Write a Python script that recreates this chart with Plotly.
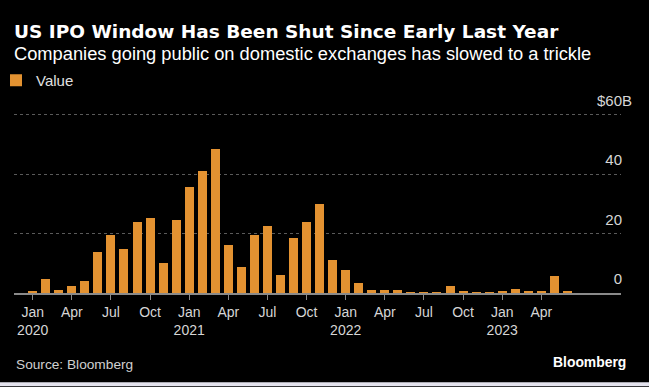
import plotly.graph_objects as go

# ---- data ----
months = [f"{y}-{m:02d}" for y in (2020, 2021, 2022) for m in range(1, 13)] + \
         [f"2023-{m:02d}" for m in range(1, 7)]
values = [
    0.5, 4.6, 1.0, 2.4, 3.9, 13.7, 19.6, 14.8, 23.9, 25.4, 10.2, 24.7,
    35.8, 41.2, 48.6, 16.2, 8.6, 19.6, 22.5, 5.9, 18.4, 24.0, 29.9, 11.2,
    7.9, 3.3, 1.05, 1.05, 0.9, 0.3, 0.1, 0.2, 2.2, 0.65, 0.1, 0.1,
    0.4, 1.5, 0.4, 0.4, 5.7, 0.35,
]
x_tick_vals = ["2020-01", "2020-04", "2020-07", "2020-10",
               "2021-01", "2021-04", "2021-07", "2021-10",
               "2022-01", "2022-04", "2022-07", "2022-10",
               "2023-01", "2023-04"]
x_tick_text = ["Jan<br>2020", "Apr", "Jul", "Oct",
               "Jan<br>2021", "Apr", "Jul", "Oct",
               "Jan<br>2022", "Apr", "Jul", "Oct",
               "Jan<br>2023", "Apr"]
y_tick_vals = [0, 20, 40, 60]
y_tick_text = ["0", "20", "40", "$60B"]

HIDE = "<span style='color:rgba(0,0,0,0)'>B</span>"
y_tick_labels = [t if t.endswith("B") else t + HIDE for t in y_tick_text]

BAR = "#E39231"
W, H = 649, 387
PX_PER_UNIT = 2.98
Y_MAX = 68
L, R, B = 14, 28, 93.5
T = H - B - Y_MAX * PX_PER_UNIT
ph = H - T - B


def py(px):  # pixel y -> paper y
    return (H - B - px) / ph


def pxx(px):  # pixel x -> paper x
    return (px - L) / (W - L - R)


fig = go.Figure()
fig.add_trace(go.Bar(x=months, y=values, name="Value", marker_color=BAR,
                     marker_line_width=0, width=0.69, showlegend=True))

fig.update_layout(
    width=W, height=H,
    margin=dict(l=L, r=R, t=T, b=B, pad=0, autoexpand=False),
    paper_bgcolor="#000000", plot_bgcolor="rgba(0,0,0,0)",
    font=dict(family="Liberation Sans", color="#d6d6d6", size=14),
    bargap=0,
    showlegend=True,
    legend=dict(orientation="h", x=pxx(-4), xanchor="left",
                yref="container", y=1 - 64 / H, yanchor="top",
                font=dict(size=15, color="#e0e0e0", family="Liberation Sans"),
                bgcolor="rgba(0,0,0,0)", itemwidth=30),
    xaxis=dict(type="category", range=[-1.434, 45.11],
               tickvals=x_tick_vals, ticktext=x_tick_text,
               ticks="outside", ticklen=5, tickcolor="#8a8a8a", tickwidth=1,
               showline=True, linecolor="#8a8a8a", linewidth=1.5,
               showgrid=False, zeroline=False, fixedrange=True,
               automargin=False,
               tickfont=dict(size=14, color="#d6d6d6")),
    yaxis=dict(side="right", range=[0, Y_MAX], tickvals=y_tick_vals,
               ticktext=y_tick_labels, ticklabelposition="inside",
               ticklabelstandoff=-14, ticklabelshift=-14,
               showgrid=True, gridcolor="#5a5a5a", griddash="dot",
               gridwidth=1, zeroline=False, showline=False, ticks="",
               fixedrange=True, automargin=False,
               tickfont=dict(size=15, color="#d6d6d6")),
    annotations=[
        dict(text="<b>US IPO Window Has Been Shut Since Early Last Year</b>",
             xref="paper", yref="paper", x=pxx(12), y=py(31),
             xanchor="left", yanchor="middle", showarrow=False,
             font=dict(family="DejaVu Sans", size=18.5, color="#ffffff")),
        dict(text="Companies going public on domestic exchanges has slowed to a trickle",
             xref="paper", yref="paper", x=pxx(12), y=py(53),
             xanchor="left", yanchor="middle", showarrow=False,
             font=dict(family="Liberation Sans", size=18.3, color="#ffffff")),
        dict(text="Source: Bloomberg",
             xref="paper", yref="paper", x=pxx(14), y=py(365),
             xanchor="left", yanchor="middle", showarrow=False,
             font=dict(family="Liberation Sans", size=13.7, color="#d0d0d0")),
        dict(text="<b>Bloomberg</b>",
             xref="paper", yref="paper", x=pxx(628), y=py(362.5),
             xanchor="right", yanchor="middle", showarrow=False,
             font=dict(family="Liberation Sans", size=13.9, color="#ffffff")),
    ],
    shapes=[
        dict(type="rect", xref="paper", yref="paper",
             x0=pxx(0), x1=pxx(W), y0=py(383), y1=py(H),
             fillcolor="#E4E3EE", line_width=0, layer="above"),
    ],
)

fig.write_html("out.html",
               config={"displayModeBar": False},
               post_script="document.body.style.margin='0';"
                           "document.body.style.background='#000';")
